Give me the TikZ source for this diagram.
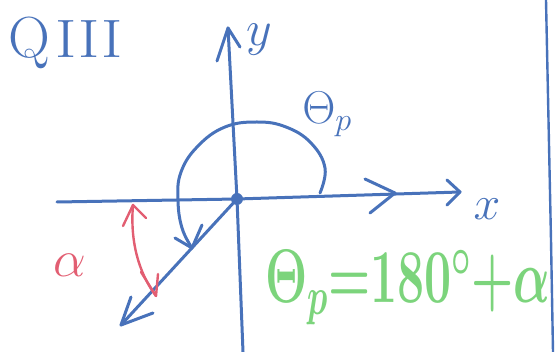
\RequirePackage{fix-cm}
\documentclass[tikz,border=0pt]{standalone}
\usepackage{fontspec}
\definecolor{pen}{RGB}{72,114,186}
\definecolor{redpen}{RGB}{226,94,114}
\definecolor{greenpen}{RGB}{124,212,124}
\tikzset{
  penline/.style={draw=pen, line width=3pt, line cap=round, line join=round},
  redline/.style={draw=redpen, line width=2.4pt, line cap=round, line join=round},
  penlabel/.style={text=pen, inner sep=0pt},
}
\begin{document}
\begin{tikzpicture}[x=1pt,y=-1pt]
\useasboundingbox (0,0) rectangle (557,352);
\clip (0,0) rectangle (557,352);
% named points
\coordinate (O) at (237,199);
\coordinate (xL) at (57,202);
\coordinate (xR) at (460,192);
\coordinate (yT) at (228,28);
\coordinate (yB) at (243,352);
\coordinate (rayEnd) at (121,325);
\coordinate (arcStart) at (320,193);
\coordinate (arcEnd) at (192,248);
\coordinate (aTop) at (133,205);
\coordinate (aBot) at (156,296);
% x-axis
\draw[penline] (xL) -- (O) -- (xR);
\draw[penline] (447,180) -- (xR) -- (447,205);
\draw[penline] (365,179) -- (395,193) -- (370,213);
% y-axis
\draw[penline] (yB) -- (O) -- (yT);
\draw[penline] (217,61) -- (yT) -- (240,47);
% terminal ray
\draw[penline] (O) -- (rayEnd);
\draw[penline] (131,297) -- (rayEnd) -- (153,313);
% origin dot
\fill[pen] (O) circle (6pt);
% theta arc
\draw[penline] plot[smooth, tension=0.7] coordinates {(arcStart) (325,168) (311,143) (286,127) (257,122) (225,127) (198,146) (181,172) (178,200) (182,228) (arcEnd)};
\draw[penline] (175,238) -- (arcEnd) -- (202,225);
% alpha double arrow
\draw[redline] (aTop) .. controls (130,240) and (138,272) .. (aBot);
\draw[redline] (123,226) -- (aTop) -- (146,218);
\draw[redline] (141,272) -- (aBot) -- (158,274);
% right border line
\coordinate (bT) at (546,0);
\coordinate (bM) at (551,240);
\coordinate (bB) at (553,352);
\draw[penline, line width=2.4pt] (bT) -- (bM) -- (bB);
% labels
\node[penlabel, anchor=base west] (q3) at (8,58) {\fontsize{58}{58}\selectfont Q\kern6pt\scalebox{1.2}[1]{\fontsize{54}{54}\selectfont III}};
\node[penlabel, anchor=center] (ylab) at (259,40) {\fontsize{50}{50}\selectfont$y$};
\node[penlabel, anchor=center] (xlab) at (487,209) {\fontsize{48}{48}\selectfont$x$};
\node[penlabel, anchor=center] (thlab) at (327,114) {\fontsize{46}{46}\selectfont$\Theta_{p}$};
\node[text=redpen, inner sep=0pt, anchor=center] (alab) at (70,265) {\fontsize{52}{52}\selectfont$\alpha$};
\node[text=greenpen, inner sep=0pt, anchor=base west] (eq) at (265,303) {\scalebox{0.635}[1]{\fontsize{76}{76}\selectfont\boldmath$\Theta_{p}{=}180^{\circ}{+}\alpha$}};
\end{tikzpicture}
\end{document}
